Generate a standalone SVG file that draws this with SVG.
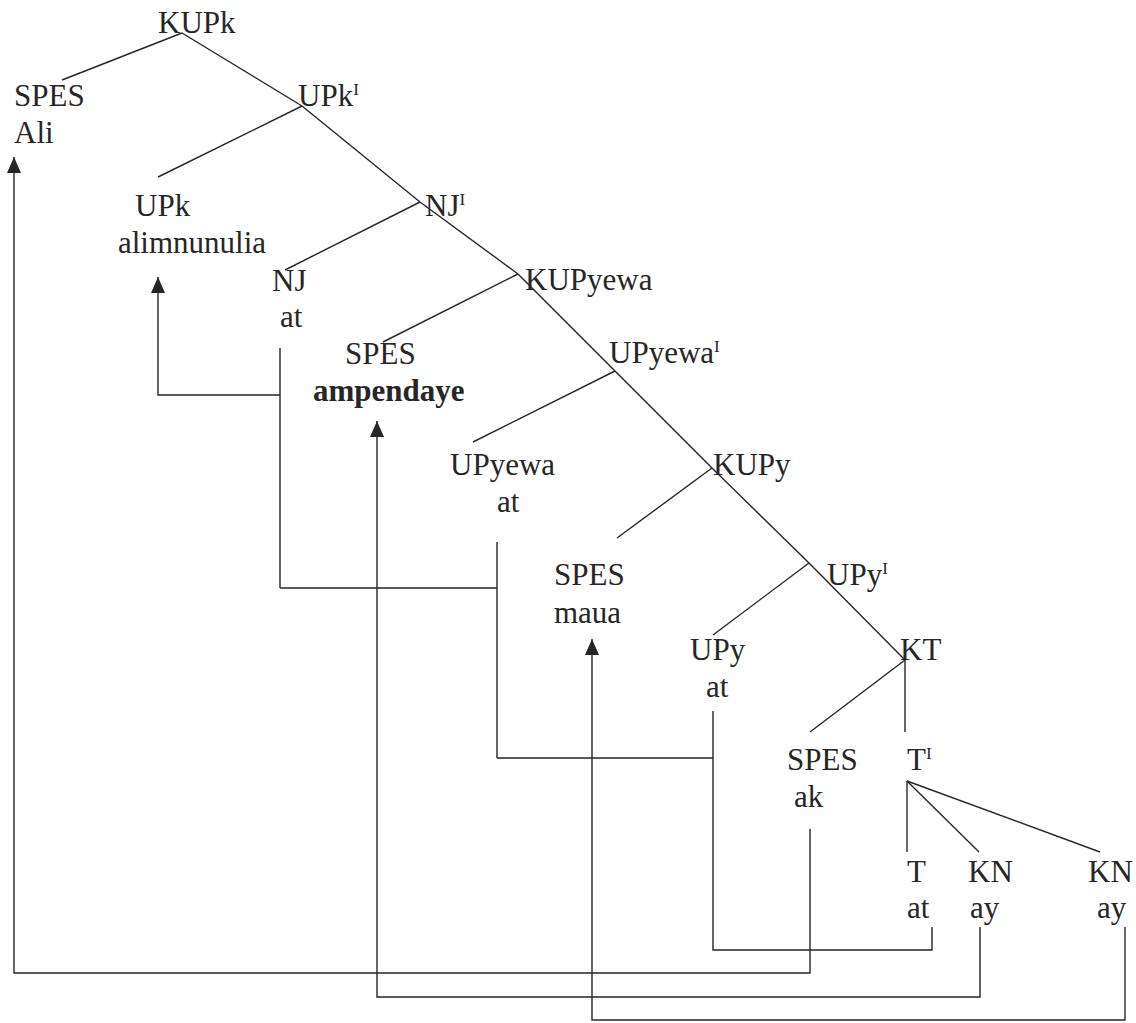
<svg xmlns="http://www.w3.org/2000/svg" width="1136" height="1023" viewBox="0 0 1136 1023">
<defs>
<style>
text{font-family:"Liberation Serif","Times New Roman",serif;font-size:31px;fill:#262626}
.b{font-weight:bold}
.sup{font-size:17px}
.e{stroke:#262626;stroke-width:1.4;fill:none}
.c{stroke:#262626;stroke-width:1.4;fill:none}
.a{marker-end:url(#arr)}
</style>
<marker id="arr" viewBox="0 0 16 14" refX="16" refY="7" markerWidth="16" markerHeight="14" markerUnits="userSpaceOnUse" orient="auto">
<path d="M0,0 L16,7 L0,14 z" fill="#262626"/>
</marker>
</defs>
<rect width="1136" height="1023" fill="#ffffff"/>

<g id="edges">
<line class="e" x1="182" y1="33" x2="62" y2="80"/>
<line class="e" x1="182" y1="33" x2="302" y2="106"/>
<line class="e" x1="302" y1="106" x2="158" y2="177"/>
<line class="e" x1="302" y1="106" x2="420" y2="202"/>
<line class="e" x1="420" y1="202" x2="285" y2="270"/>
<line class="e" x1="420" y1="202" x2="518" y2="274"/>
<line class="e" x1="518" y1="274" x2="383" y2="342"/>
<line class="e" x1="518" y1="274" x2="615" y2="371"/>
<line class="e" x1="615" y1="371" x2="473" y2="442"/>
<line class="e" x1="615" y1="371" x2="712" y2="468"/>
<line class="e" x1="712" y1="468" x2="617" y2="538"/>
<line class="e" x1="712" y1="468" x2="809" y2="563"/>
<line class="e" x1="809" y1="563" x2="713" y2="635"/>
<line class="e" x1="809" y1="563" x2="905" y2="660"/>
<line class="e" x1="905" y1="660" x2="810" y2="732"/>
<line class="e" x1="905" y1="660" x2="905" y2="732"/>
<line class="e" x1="907" y1="781" x2="907" y2="852"/>
<line class="e" x1="907" y1="781" x2="979" y2="852"/>
<line class="e" x1="907" y1="781" x2="1100" y2="852"/>
</g>

<g id="movement-connectors">
<path class="c a" d="M810,829 V973 H14 V157"/>
<path class="c a" d="M980,927 V997 H377 V421"/>
<path class="c a" d="M1125,927 V1020 H592 V639"/>
<path class="c a" d="M932,927 V950 H713 V711 M713,758 H497 M497,542 V758 M497,588 H280 M280,348 V588 M280,395 H158 V277"/>
</g>

<g id="n-KUPk"><text x="158" y="33">KUPk</text></g>
<g id="n-SPES-Ali"><text x="14" y="106">SPES</text><text x="14" y="143">Ali</text></g>
<g id="n-UPk-bar"><text x="298" y="106">UPk<tspan class="sup" dy="-11">I</tspan></text></g>
<g id="n-UPk"><text x="135" y="216">UPk</text><text x="118" y="253">alimnunulia</text></g>
<g id="n-NJ-bar"><text x="425" y="216">NJ<tspan class="sup" dy="-11">I</tspan></text></g>
<g id="n-NJ"><text x="272" y="291">NJ</text><text x="280" y="327">at</text></g>
<g id="n-KUPyewa"><text x="525" y="290">KUPyewa</text></g>
<g id="n-SPES-ampendaye"><text x="345" y="364">SPES</text><text class="b" x="313" y="401">ampendaye</text></g>
<g id="n-UPyewa-bar"><text x="609" y="363">UPyewa<tspan class="sup" dy="-11">I</tspan></text></g>
<g id="n-UPyewa"><text x="450" y="475">UPyewa</text><text x="497" y="512">at</text></g>
<g id="n-KUPy"><text x="713" y="475">KUPy</text></g>
<g id="n-SPES-maua"><text x="554" y="585">SPES</text><text x="554" y="623">maua</text></g>
<g id="n-UPy-bar"><text x="827" y="585">UPy<tspan class="sup" dy="-11">I</tspan></text></g>
<g id="n-UPy"><text x="690" y="660">UPy</text><text x="706" y="697">at</text></g>
<g id="n-KT"><text x="900" y="660">KT</text></g>
<g id="n-SPES-ak"><text x="787" y="770">SPES</text><text x="794" y="807">ak</text></g>
<g id="n-T-bar"><text x="907" y="770">T<tspan class="sup" dy="-11">I</tspan></text></g>
<g id="n-T"><text x="907" y="882">T</text><text x="907" y="918">at</text></g>
<g id="n-KN1"><text x="968" y="882">KN</text><text x="970" y="918">ay</text></g>
<g id="n-KN2"><text x="1088" y="882">KN</text><text x="1097" y="918">ay</text></g>
</svg>
